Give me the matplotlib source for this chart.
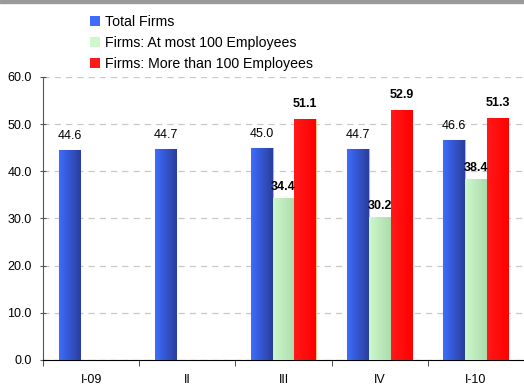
import numpy as np
import matplotlib.pyplot as plt
from matplotlib.patches import Rectangle
from matplotlib.colors import LinearSegmentedColormap

plt.rcParams['font.family'] = ['Liberation Sans', 'DejaVu Sans']

quarters = ['I-09', 'II', 'III', 'IV', 'I-10']
total_firms = [44.6, 44.7, 45.0, 44.7, 46.6]
small_firms = [np.nan, np.nan, 34.4, 30.2, 38.4]
large_firms = [np.nan, np.nan, 51.1, 52.9, 51.3]

series = [
    ('Total Firms', total_firms, ['#3d6cff', '#2a3f9c'], '#a9b0ff', 'normal', 10),
    ('Firms: At most 100 Employees', small_firms, ['#cdf8cd', '#acdcac'], 'none', 'bold', 8),
    ('Firms: More than 100 Employees', large_firms, ['#ff1a1a', '#ff0000'], '#ffc890', 'bold', 11),
]

fig = plt.figure(figsize=(5.24, 3.9), dpi=100)
ax = fig.add_axes([0.082, 0.077, 0.918, 0.726])

# grey band along the top edge
fig.patches.append(Rectangle((0, 0.992), 1, 0.008, transform=fig.transFigure,
                             color='#9a9a9a', zorder=0))

x = np.arange(len(quarters))
width = 0.225
offsets = [-width, 0, width]
grad = np.linspace(0, 1, 64).reshape(1, -1)

handles = []
for (name, vals, cols, edge, weight, pad), off in zip(series, offsets):
    cmap = LinearSegmentedColormap.from_list(name, cols)
    bars = ax.bar(x + off, vals, width, color=cols[0], edgecolor=edge,
                  linewidth=0.8, zorder=3, label=name)
    for b, v in zip(bars, vals):
        if np.isnan(v):
            continue
        # horizontal shading inside each bar
        im = ax.imshow(grad, cmap=cmap, aspect='auto', zorder=3.5,
                       extent=[b.get_x(), b.get_x() + b.get_width(), 0, v])
        im.set_clip_path(b)
        ax.annotate(f'{v:.1f}', (b.get_x() + b.get_width() / 2, v),
                    xytext=(0, pad), textcoords='offset points',
                    ha='center', va='center', fontsize=9,
                    fontweight=weight, color='black', zorder=5)
    handles.append(Rectangle((0, 0), 1, 1, facecolor=cols[0], edgecolor='none'))

ax.set_xlim(-0.5, len(quarters) - 0.5)
ax.set_ylim(0, 60)
ax.set_yticks(np.arange(0, 61, 10))
ax.set_yticklabels([f'{t:.1f}' for t in np.arange(0, 61, 10)], fontsize=9)
ax.set_xticks(x)
ax.set_xticklabels(quarters, fontsize=9)
ax.set_xticks(np.arange(-0.5, len(quarters)), minor=True)
ax.tick_params(axis='x', which='major', length=0, pad=10)
ax.tick_params(axis='x', which='minor', length=4, direction='out', color='#333333')
ax.tick_params(axis='y', length=4, direction='inout', color='#555555', pad=6)

ax.yaxis.grid(True, linestyle=(0, (5, 4)), color='#c8c8c8', linewidth=0.9, zorder=0)
for s in ['top', 'right']:
    ax.spines[s].set_visible(False)
ax.spines['left'].set_color('#555555')
ax.spines['bottom'].set_color('black')

fig.legend(handles, [s[0] for s in series], loc='upper left',
           bbox_to_anchor=(0.161, 0.977), frameon=False, fontsize=10.2,
           handlelength=0.7, handleheight=0.7, handletextpad=0.35,
           labelspacing=0.5, borderaxespad=0)

fig.savefig('out.png', dpi=100)
